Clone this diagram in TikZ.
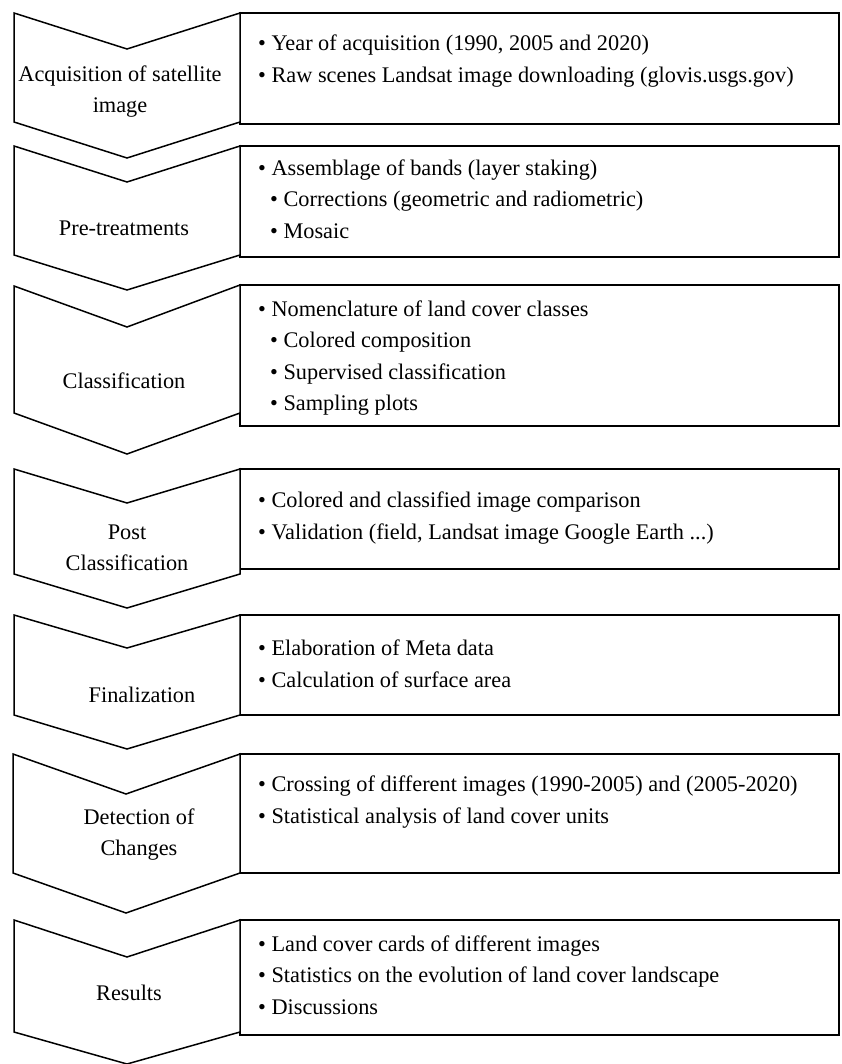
\documentclass[tikz,border=0pt]{standalone}
\usepackage{fontspec}
\setmainfont{Liberation Serif}
\usetikzlibrary{positioning}

\newcommand{\ind}{\hspace*{12pt}}

\begin{document}
\begin{tikzpicture}[x=1pt,y=-1pt,line join=miter,
            stage/.style={draw,line width=1.5pt,fill=white},
            list box/.style={draw,line width=1.5pt},
            stage label/.style={align=center,inner sep=0pt,font=\fontsize{22.3}{31}\selectfont},
            list text/.style={align=left,anchor=west,inner sep=0pt,font=\fontsize{22.3}{31.5}\selectfont}]

        \useasboundingbox (0,0) rectangle (842,1064);

        % acquisition
        \draw[list box] (240,13) rectangle (839,124);
        \draw[stage] (14,13) -- (127,49) -- (240,13) -- (240,122) -- (127,158) -- (14,122) -- cycle;
        \node[stage label] (acq) at (120,92) {Acquisition of satellite\\image};
        \node[list text] (acq list) at (258,61) {\textbullet\ Year of acquisition (1990, 2005 and 2020)\\
            \textbullet\ Raw scenes Landsat image downloading (glovis.usgs.gov)};

        % pre-treatments
        \draw[list box] (240,146) rectangle (839,257);
        \draw[stage] (14,146) -- (127,182) -- (240,146) -- (240,255) -- (127,290) -- (14,255) -- cycle;
        \node[stage label] (pre) at (124,228) {Pre-treatments};
        \node[list text] (pre list) at (258,199) {\textbullet\ Assemblage of bands (layer staking)\\
            \ind\textbullet\ Corrections (geometric and radiometric)\\
            \ind\textbullet\ Mosaic};

        % classification
        \draw[list box] (240,285) rectangle (839,426);
        \draw[stage] (14,286) -- (127,327) -- (240,285) -- (240,413) -- (127,454) -- (14,413) -- cycle;
        \node[stage label] (cls) at (124,381) {Classification};
        \node[list text] (cls list) at (258,358) {\textbullet\ Nomenclature of land cover classes\\
            \ind\textbullet\ Colored composition\\
            \ind\textbullet\ Supervised classification\\
            \ind\textbullet\ Sampling plots};

        % post classification
        \draw[list box] (240,469) rectangle (839,569);
        \draw[stage] (14,469) -- (127,503) -- (240,469) -- (240,574) -- (127,608) -- (14,574) -- cycle;
        \node[stage label] (post) at (127,548) {Post\\Classification};
        \node[list text] (post list) at (258,518) {\textbullet\ Colored and classified image comparison\\
            \textbullet\ Validation (field, Landsat image Google Earth ...)};

        % finalization
        \draw[list box] (240,615) rectangle (839,715);
        \draw[stage] (14,615) -- (127,648) -- (240,615) -- (240,715) -- (127,749) -- (14,715) -- cycle;
        \node[stage label] (fin) at (142,695) {Finalization};
        \node[list text] (fin list) at (258,664) {\textbullet\ Elaboration of Meta data\\
            \textbullet\ Calculation of surface area};

        % detection of changes
        \draw[list box] (240,754) rectangle (839,873);
        \draw[stage] (13,754) -- (126,794) -- (240,754) -- (240,873) -- (126,913) -- (13,873) -- cycle;
        \node[stage label] (det) at (139,835) {Detection of\\Changes};
        \node[list text] (det list) at (258,802) {\textbullet\ Crossing of different images (1990-2005) and (2005-2020)\\
            \textbullet\ Statistical analysis of land cover units};

        % results
        \draw[list box] (240,920) rectangle (839,1035);
        \draw[stage] (14,920) -- (127,957) -- (240,920) -- (240,1032) -- (127,1064) -- (14,1032) -- cycle;
        \node[stage label] (res) at (129,993) {Results};
        \node[list text] (res list) at (258,975) {\textbullet\ Land cover cards of different images\\
            \textbullet\ Statistics on the evolution of land cover landscape\\
            \textbullet\ Discussions};
    \end{tikzpicture}
\end{document}
